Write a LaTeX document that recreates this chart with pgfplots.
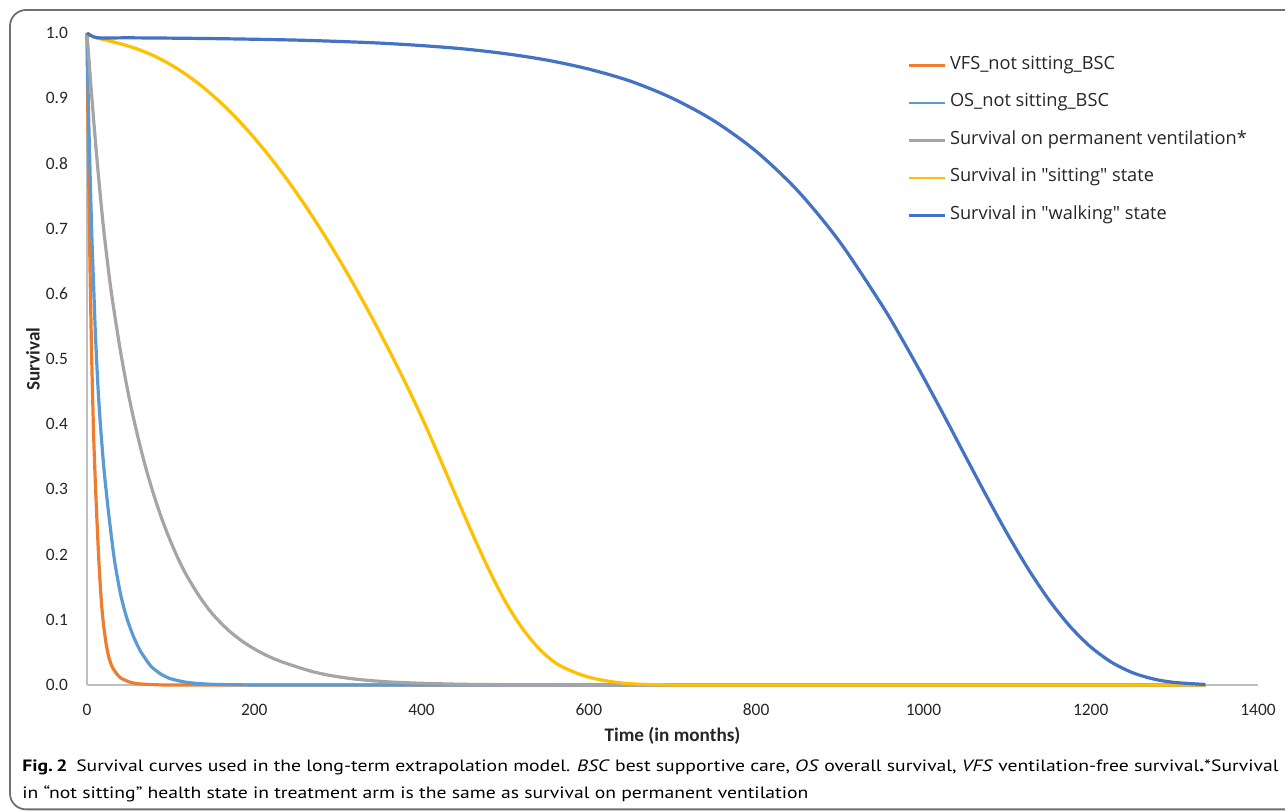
\documentclass[border=0pt]{standalone}
\usepackage{fontspec}
\setmainfont{Carlito}
\newfontfamily\legfont{Open Sans}
\newfontfamily\capfont{PT Sans}
\usepackage{graphicx}
\usepackage{pgfplots}
\pgfplotsset{compat=1.18}

\definecolor{cOrange}{HTML}{ED7D31}
\definecolor{cLBlue}{HTML}{5B9BD5}
\definecolor{cGrey}{HTML}{A5A5A5}
\definecolor{cGold}{HTML}{FFC000}
\definecolor{cDBlue}{HTML}{4472C4}
\definecolor{axgrey}{HTML}{BFBFBF}
\definecolor{ticktext}{HTML}{262626}
\definecolor{framegrey}{HTML}{707070}

\begin{document}
\begin{tikzpicture}
\useasboundingbox (0,0) rectangle (642.5pt,406pt);
\draw[framegrey, line width=0.9pt, rounded corners=8pt] (5pt,401pt) rectangle (655pt,1.3pt);

\begin{axis}[
  at={(43.5pt,63.5pt)}, anchor=south west,
  width=585.5pt, height=326pt, scale only axis,
  xmin=0, xmax=1400, ymin=0, ymax=1,
  clip=false,
  axis x line*=bottom, axis y line*=left,
  axis line style={draw=axgrey, line width=0.8pt, -},
  major tick length=0pt,
  xtick={0,200,400,600,800,1000,1200,1400},
  ytick={0,0.1,0.2,0.3,0.4,0.5,0.6,0.7,0.8,0.9,1},
  /pgf/number format/assume math mode=true,
  tick label style={font=\fontsize{8.7}{10}\selectfont, text=ticktext},
  xticklabel style={yshift=-6pt, /pgf/number format/1000 sep={}},
  yticklabel style={xshift=-6pt, /pgf/number format/.cd, fixed, fixed zerofill, precision=1},
  xlabel={Time (in months)}, ylabel={Survival},
  xlabel style={font=\bfseries\fontsize{9.6}{11}\selectfont, text=ticktext, at={(axis description cs:0.5,-0.078)}, anchor=center},
  ylabel style={font=\bfseries\fontsize{9.6}{11}\selectfont, text=ticktext, at={(axis description cs:-0.0461,0.5)}, anchor=center},
  legend style={at={(axis description cs:0.7003,0.9647)}, anchor=north west, draw=none, fill=none, inner sep=0pt,
    font=\legfont\fontsize{9.1}{10}\selectfont, text=ticktext, row sep=9.75pt,
    nodes={inner sep=0pt, text height=6.5pt, text depth=2.5pt},
    /tikz/every odd column/.append style={column sep=2pt}},
  legend cell align=left,
  legend image code/.code={\draw[#1, line width=1.3pt] (0pt,0pt) -- (18pt,0pt);},
  every axis plot/.append style={line width=1.6pt, line join=round},
]
% VFS_not sitting_BSC
\addplot[cOrange, smooth, tension=0.4] coordinates {
(0,1) (1,0.88) (2,0.78) (3,0.69) (4,0.61) (5,0.54) (6,0.48) (8,0.38) (10,0.31) (12,0.25)
(14,0.195) (16,0.15) (18,0.115) (20,0.09) (23,0.062) (26,0.043) (30,0.028) (35,0.018)
(40,0.011) (50,0.005) (60,0.002) (80,0.0005) (100,0) (200,0) (400,0) (800,0) (1337,0)};
\addlegendentry{VFS\_not sitting\_BSC}
% OS_not sitting_BSC
\addplot[cLBlue, smooth, tension=0.4] coordinates {
(0,1) (1,0.93) (2,0.87) (3,0.82) (4,0.77) (6,0.68) (8,0.61) (10,0.54) (13,0.46) (16,0.40)
(20,0.335) (24,0.285) (28,0.24) (33,0.19) (40,0.14) (47,0.105) (55,0.076) (63,0.054)
(70,0.04) (77,0.028) (88,0.017) (99,0.01) (115,0.005) (130,0.0025) (150,0.001)
(180,0.0003) (220,0) (400,0) (800,0) (1337,0)};
\addlegendentry{OS\_not sitting\_BSC}
% Survival on permanent ventilation
\addplot[cGrey, smooth, tension=0.5] coordinates {
(0,1) (5,0.914) (10,0.835) (15,0.763) (20,0.698) (25,0.643) (30,0.594) (40,0.512)
(50,0.443) (60,0.385) (70,0.3345) (80,0.291) (90,0.253) (100,0.220) (110,0.191)
(120,0.166) (135,0.1347) (150,0.109) (170,0.0829) (190,0.0633) (210,0.0483)
(230,0.0369) (250,0.0282) (270,0.0204) (290,0.0148) (310,0.0108) (330,0.0078)
(360,0.0048) (400,0.0026) (450,0.0011) (500,0.0005) (600,0.0001) (800,0) (1337,0)};
\addlegendentry{Survival on permanent ventilation*}
% Survival in sitting state
\addplot[cGold, smooth, tension=0.5] coordinates {
(0,1) (10,0.993) (20,0.990) (40,0.9835) (60,0.9755) (80,0.965) (100,0.9515) (120,0.935)
(140,0.9155) (160,0.893) (180,0.8675) (200,0.839) (220,0.8077) (240,0.7737) (260,0.737)
(280,0.6977) (300,0.6559) (320,0.6117) (340,0.5651) (360,0.5162) (380,0.4652)
(400,0.4112) (420,0.3532) (440,0.2932) (460,0.2342) (480,0.1782) (500,0.1282)
(520,0.0877) (540,0.0562) (560,0.034) (580,0.021) (600,0.012) (620,0.0065) (640,0.003)
(660,0.0012) (680,0.0004) (700,0.0001) (720,0) (900,0) (1337,0)};
\addlegendentry{Survival in "sitting" state}
% Survival in walking state
\addplot[cDBlue, smooth, tension=0.5] coordinates {
(0,1) (12,0.9928) (50,0.9926) (100,0.9921) (150,0.9914) (200,0.9904) (250,0.9891)
(300,0.9871) (350,0.9845) (400,0.9807) (450,0.9756) (500,0.9683) (550,0.9584)
(600,0.9446) (650,0.9260) (700,0.8998) (750,0.8649) (800,0.8185) (850,0.7576)
(900,0.6795) (950,0.5833) (975,0.5293) (1000,0.4719) (1025,0.4123) (1050,0.3513)
(1075,0.2908) (1100,0.2325) (1125,0.1785) (1150,0.1306) (1175,0.0903) (1200,0.0583)
(1225,0.0348) (1250,0.0189) (1275,0.0092) (1300,0.0039) (1337,0.0008)};
\addlegendentry{Survival in "walking" state}
\end{axis}

\node[anchor=base west, inner sep=0pt] at (11pt,20pt) {\resizebox{628pt}{\height}{\capfont\fontsize{8.2}{10}\selectfont\textbf{Fig.\,2}\hspace{0.45em}Survival curves used in the long-term extrapolation model. \textit{BSC} best supportive care, \textit{OS} overall survival, \textit{VFS} ventilation-free survival\textbf{.}*Survival}};
\node[anchor=base west, inner sep=0pt] at (11pt,6.5pt) {\resizebox{393pt}{\height}{\capfont\fontsize{8.2}{10}\selectfont in “not sitting” health state in treatment arm is the same as survival on permanent ventilation}};
\end{tikzpicture}
\end{document}
